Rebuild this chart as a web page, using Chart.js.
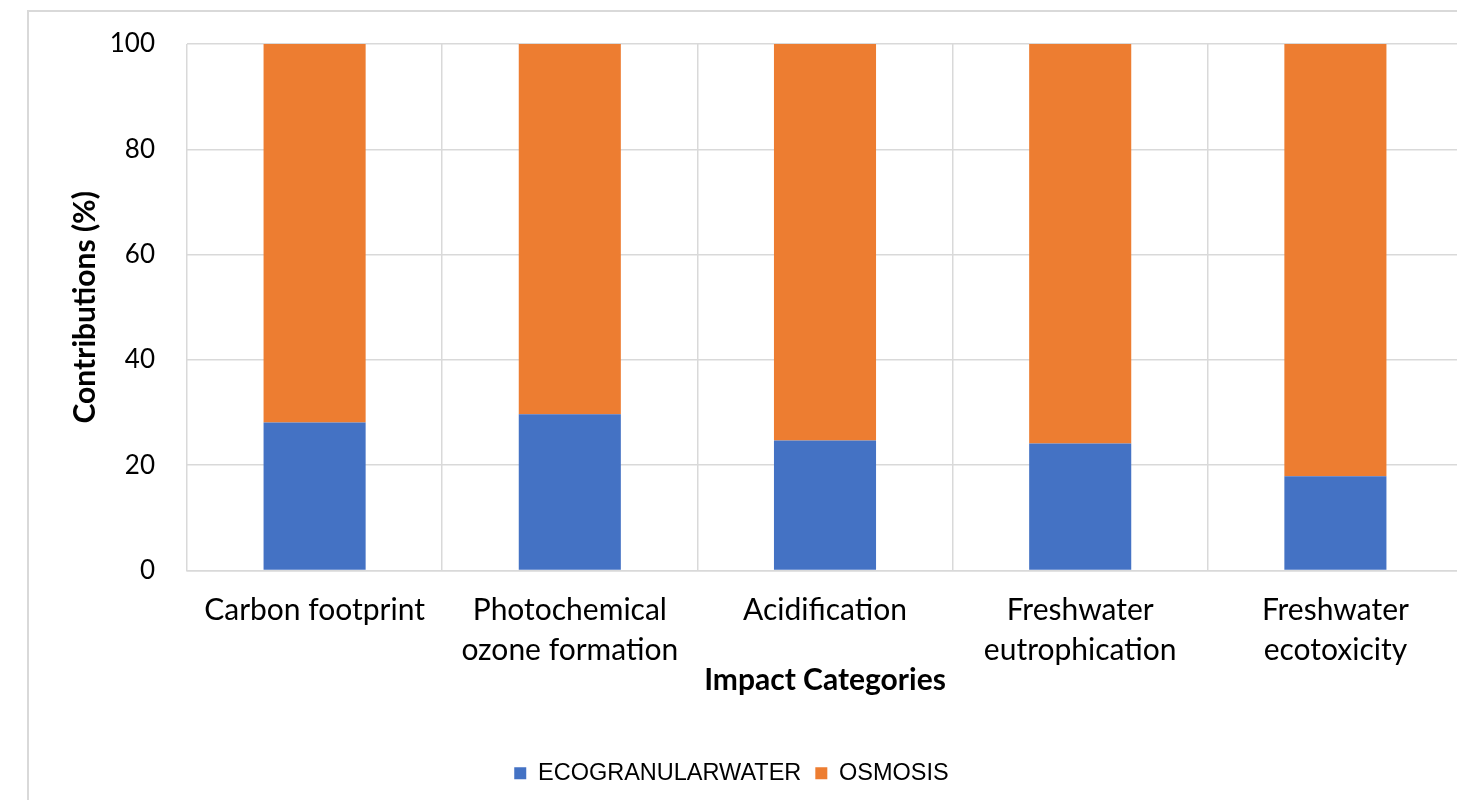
<!DOCTYPE html>
<html>
<head>
<meta charset="utf-8">
<script src="https://cdn.jsdelivr.net/npm/chart.js@4.4.1/dist/chart.umd.min.js"></script>
<style>
  html, body { margin: 0; padding: 0; background: #fff; overflow: hidden; }
  #frame {
    position: absolute; left: 27px; top: 10px;
    width: 1600px; height: 900px;
    border: 2px solid #d9d9d9;
  }
  #wrap { position: absolute; left: 0; top: 0; width: 1463px; height: 800px; }
</style>
</head>
<body>
<div id="frame"></div>
<div id="wrap"><canvas id="chart"></canvas></div>
<script>
// Chart data
const categories = [
  'Carbon footprint',
  ['Photochemical', 'ozone formation'],
  'Acidification',
  ['Freshwater', 'eutrophication'],
  ['Freshwater', 'ecotoxicity']
];
const ecogranularValues = [28.1, 29.7, 24.7, 24.1, 17.9];
const osmosisValues = [71.9, 70.3, 75.3, 75.9, 82.1];
const yTicks = [0, 20, 40, 60, 80, 100];

const gridColor = '#d9d9d9';
const labelFont = 'Lato, "Open Sans", sans-serif';

const ctx = document.getElementById('chart').getContext('2d');
new Chart(ctx, {
  type: 'bar',
  data: {
    labels: categories,
    datasets: [
      {
        label: 'ECOGRANULARWATER',
        data: ecogranularValues,
        backgroundColor: '#4472c4',
        barPercentage: 0.4,
        categoryPercentage: 1
      },
      {
        label: 'OSMOSIS',
        data: osmosisValues,
        backgroundColor: '#ed7d31',
        barPercentage: 0.4,
        categoryPercentage: 1
      }
    ]
  },
  options: {
    responsive: true,
    maintainAspectRatio: false,
    animation: false,
    layout: { padding: { top: 44, left: 0, right: 0, bottom: 5 } },
    plugins: {
      tooltip: { enabled: false },
      legend: {
        position: 'bottom',
        labels: {
          color: '#000',
          boxWidth: 12,
          boxHeight: 12,
          padding: 14,
          font: { family: '"Liberation Sans", Arial, sans-serif', size: 23.5 }
        }
      }
    },
    scales: {
      x: {
        stacked: true,
        grid: { color: gridColor, lineWidth: 1.5, drawTicks: false },
        border: { color: gridColor, width: 1.5 },
        ticks: {
          color: '#000',
          padding: 20,
          maxRotation: 0,
          autoSkip: false,
          font: { family: labelFont, size: 30, lineHeight: 1.333 }
        },
        title: {
          display: true,
          text: 'Impact Categories',
          color: '#000',
          padding: { top: 0, bottom: 49 },
          font: { family: labelFont, size: 30, weight: 'bold' }
        },
        afterFit: (scale) => { scale.height = 177; }
      },
      y: {
        stacked: true,
        min: 0,
        max: 100,
        afterBuildTicks: (scale) => { scale.ticks = yTicks.map(v => ({ value: v })); },
        // invisible tick marks keep the labels away from the plot
        grid: { color: gridColor, lineWidth: 1.5, drawTicks: true, tickLength: 28, tickColor: 'rgba(0,0,0,0)' },
        border: { display: false },
        ticks: {
          color: '#000',
          padding: 4,
          font: { family: labelFont, size: 26 }
        },
        title: {
          display: true,
          text: 'Contributions (%)',
          color: '#000',
          padding: { top: 67, bottom: 0 },
          font: { family: labelFont, size: 30, weight: 'bold' }
        },
        afterFit: (scale) => { scale.width = 187; }
      }
    }
  }
});
</script>
</body>
</html>
